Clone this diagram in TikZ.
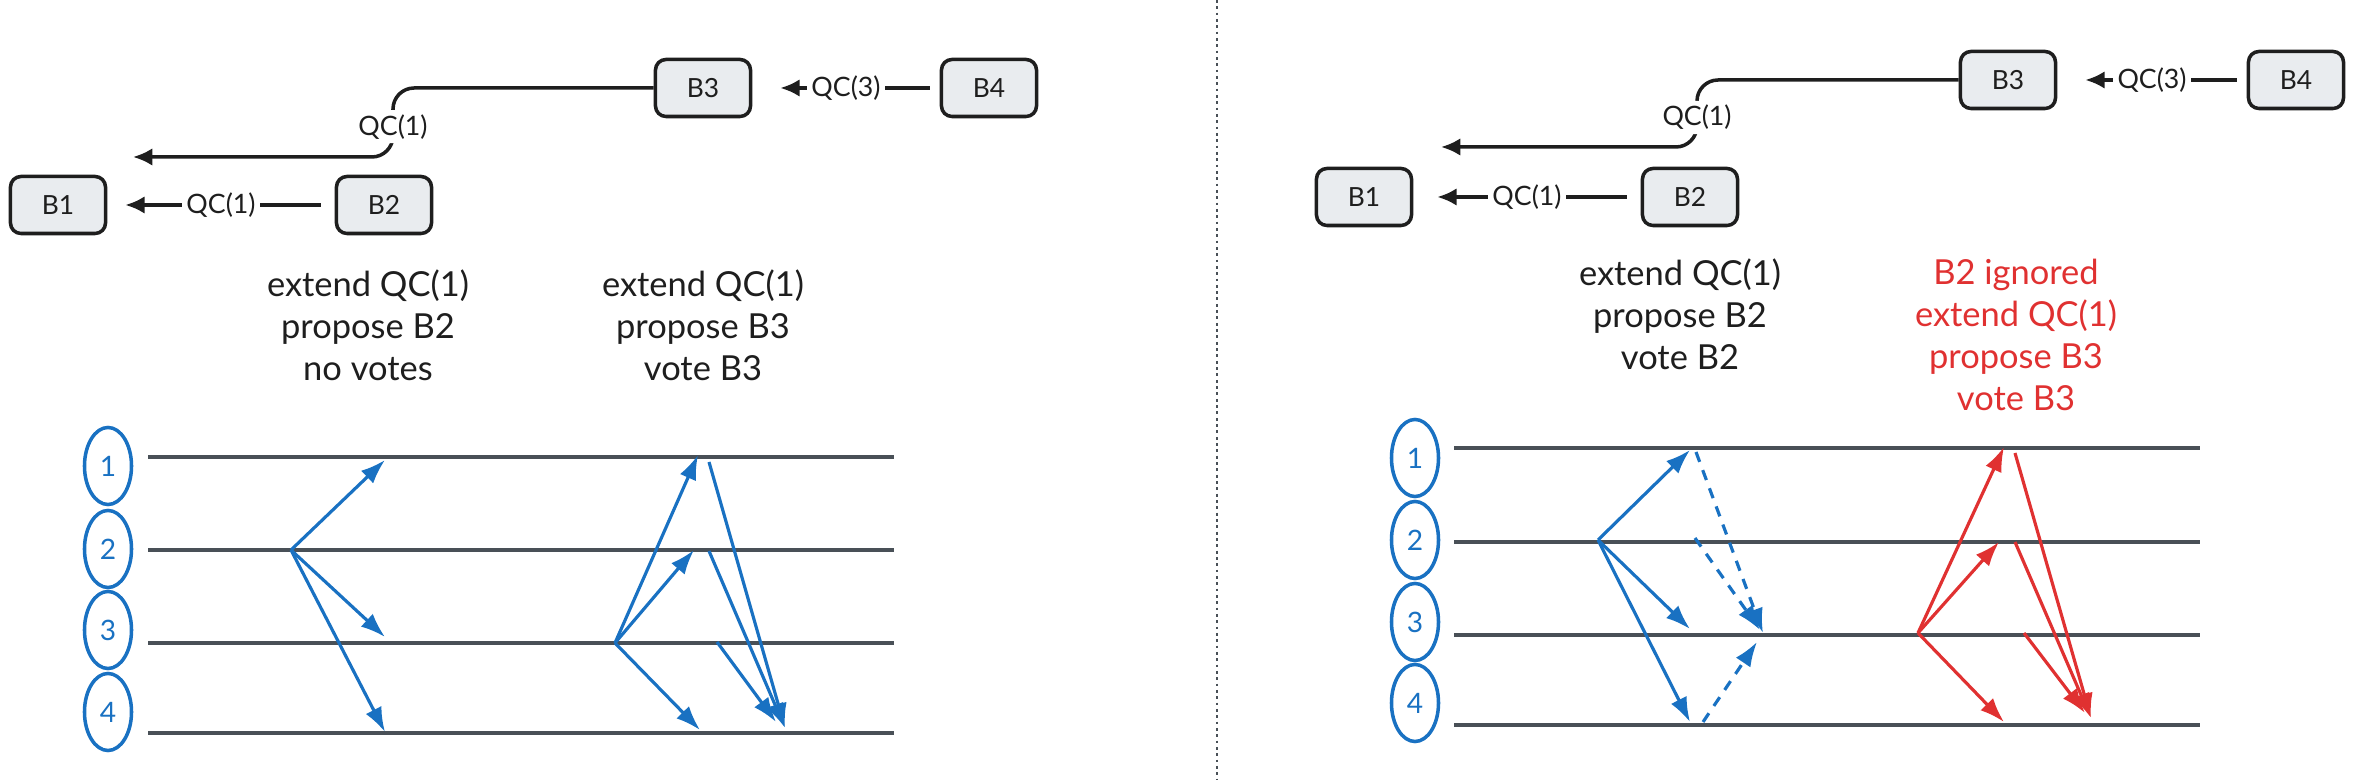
\documentclass[tikz,border=0pt]{standalone}
\usepackage{fontspec}
\setmainfont{Lato}
\usetikzlibrary{arrows.meta,positioning,calc,shapes.geometric}

\definecolor{boxfill}{HTML}{E9ECEF}
\definecolor{ink}{HTML}{1E1E1E}
\definecolor{msgblue}{HTML}{1971C2}
\definecolor{msgred}{HTML}{E03131}
\definecolor{railgray}{HTML}{495057}

\begin{document}
\begin{tikzpicture}[x=0.01cm, y=-0.01cm, >=Latex,
  every node/.style={font=\fontsize{7.5}{9}\selectfont, text=ink},
  block/.style={draw=ink, fill=boxfill, rounded corners=3pt, line width=1pt, minimum width=0.95cm, minimum height=0.57cm, inner sep=0pt},
  link/.style={-{Latex[length=5.5pt,width=5pt]}, draw=ink, line width=1pt},
  lbl/.style={fill=white, inner sep=1.2pt, font=\fontsize{7.6}{9}\selectfont},
  note/.style={align=center, font=\fontsize{9.8}{12}\selectfont},
  proc/.style={draw=msgblue, ellipse, line width=1pt, minimum width=0.47cm, minimum height=0.77cm, inner sep=0pt, text=msgblue, font=\fontsize{8}{9}\selectfont},
  railline/.style={draw=railgray, line width=1.2pt},
  msg/.style={-{Latex[length=7pt,width=5pt]}, draw=msgblue, line width=0.9pt},
  redmsg/.style={msg, draw=msgred},
  votedash/.style={msg, dash pattern=on 3pt off 2.5pt}
]
\useasboundingbox (0,0) rectangle (2353,780);

% separator
\draw[densely dotted, draw=railgray, line width=0.8pt] (1217,0) -- (1217,780);

% ---------------- left: chain ----------------
\node[block] (b1) at (58,205) {B1};
\node[block] (b2) at (384,205) {B2};
\node[block] (b3) at (703,88) {B3};
\node[block] (b4) at (989,88) {B4};
\coordinate (tipa) at (133,157);

\draw[link, shorten >=0.18cm, shorten <=0.14cm] (b2) -- node[lbl] {QC(1)} (b1);
\draw[link, shorten >=0.28cm, shorten <=0.1cm] (b4) -- node[lbl] {QC(3)} (b3);
\draw[link, rounded corners=6pt] (b3.west) -| node[lbl, pos=0.78] {QC(1)} (393,157) -- (tipa);

\node[note] (na) at (368,325) {extend QC(1)\\propose B2\\no votes};
\node[note] (nb) at (703,325) {extend QC(1)\\propose B3\\vote B3};

% ---------------- left: timeline ----------------
\node[proc] (p1) at (108,466) {1};
\node[proc] (p2) at (108,549) {2};
\node[proc] (p3) at (108,630) {3};
\node[proc] (p4) at (108,712) {4};

\coordinate (r1a) at (148,457); \coordinate (r1b) at (894,457);
\coordinate (r2a) at (148,550); \coordinate (r2b) at (894,550);
\coordinate (r3a) at (148,643); \coordinate (r3b) at (894,643);
\coordinate (r4a) at (148,733); \coordinate (r4b) at (894,733);
\draw[railline] (r1a) -- (r1b);
\draw[railline] (r2a) -- (r2b);
\draw[railline] (r3a) -- (r3b);
\draw[railline] (r4a) -- (r4b);

% leader 2 proposes B2
\coordinate (lo) at (291,550);
\coordinate (lt1) at (385,460);
\coordinate (lt3) at (385,637);
\coordinate (lt4) at (385,732);
\draw[msg] (lo) -- (lt1);
\draw[msg] (lo) -- (lt3);
\draw[msg] (lo) -- (lt4);

% leader 3 proposes B3
\coordinate (mo) at (615,643);
\coordinate (mt1) at (698,455);
\coordinate (mt2) at (694,550);
\coordinate (mt4) at (700,730);
\draw[msg] (mo) -- (mt1);
\draw[msg] (mo) -- (mt2);
\draw[msg] (mo) -- (mt4);

% votes for B3
\coordinate (mv1) at (709,462);
\coordinate (mv2) at (709,551);
\coordinate (mv3) at (717,642);
\coordinate (mva) at (785,728);
\coordinate (mvb) at (776,722);
\draw[msg] (mv1) -- (mva);
\draw[msg] (mv2) -- (mva);
\draw[msg] (mv3) -- (mvb);

% ---------------- right: chain ----------------
\node[block] (rb1) at (1364,197) {B1};
\node[block] (rb2) at (1690,197) {B2};
\node[block] (rb3) at (2008,80) {B3};
\node[block] (rb4) at (2296,80) {B4};
\coordinate (tipb) at (1441,147);

\draw[link, shorten >=0.24cm, shorten <=0.14cm] (rb2) -- node[lbl] {QC(1)} (rb1);
\draw[link, shorten >=0.28cm, shorten <=0.1cm] (rb4) -- node[lbl] {QC(3)} (rb3);
\draw[link, rounded corners=6pt] (rb3.west) -| node[lbl, pos=0.78] {QC(1)} (1697,147) -- (tipb);

\node[note] (nc) at (1680,314) {extend QC(1)\\propose B2\\vote B2};
\node[note, text=msgred] (nd) at (2016,335) {B2 ignored\\extend QC(1)\\propose B3\\vote B3};

% ---------------- right: timeline ----------------
\node[proc] (q1) at (1415,458) {1};
\node[proc] (q2) at (1415,540) {2};
\node[proc] (q3) at (1415,622) {3};
\node[proc] (q4) at (1415,703) {4};

\coordinate (s1a) at (1454,448); \coordinate (s1b) at (2200,448);
\coordinate (s2a) at (1454,542); \coordinate (s2b) at (2200,542);
\coordinate (s3a) at (1454,635); \coordinate (s3b) at (2200,635);
\coordinate (s4a) at (1454,725); \coordinate (s4b) at (2200,725);
\draw[railline] (s1a) -- (s1b);
\draw[railline] (s2a) -- (s2b);
\draw[railline] (s3a) -- (s3b);
\draw[railline] (s4a) -- (s4b);

% leader 2 proposes B2, all vote B2
\coordinate (ro) at (1598,540);
\coordinate (rt1) at (1690,450);
\coordinate (rt3) at (1690,629);
\coordinate (rt4) at (1690,722);
\draw[msg] (ro) -- (rt1);
\draw[msg] (ro) -- (rt3);
\draw[msg] (ro) -- (rt4);

\coordinate (rv1) at (1696,452);
\coordinate (rv2) at (1695,538);
\coordinate (rv4) at (1703,722);
\coordinate (rva) at (1763,633);
\coordinate (rvb) at (1760,630);
\coordinate (rvc) at (1757,642);
\draw[votedash] (rv1) -- (rva);
\draw[votedash] (rv2) -- (rvb);
\draw[votedash] (rv4) -- (rvc);

% leader 3 ignores B2, proposes B3
\coordinate (so) at (1918,633);
\coordinate (st1) at (2004,447);
\coordinate (st2) at (1999,542);
\coordinate (st4) at (2004,722);
\draw[redmsg] (so) -- (st1);
\draw[redmsg] (so) -- (st2);
\draw[redmsg] (so) -- (st4);

\coordinate (sv1) at (2015,453);
\coordinate (sv2) at (2015,542);
\coordinate (sv3) at (2024,633);
\coordinate (sva) at (2091,718);
\coordinate (svb) at (2085,713);
\draw[redmsg] (sv1) -- (sva);
\draw[redmsg] (sv2) -- (sva);
\draw[redmsg] (sv3) -- (svb);
\end{tikzpicture}
\end{document}
